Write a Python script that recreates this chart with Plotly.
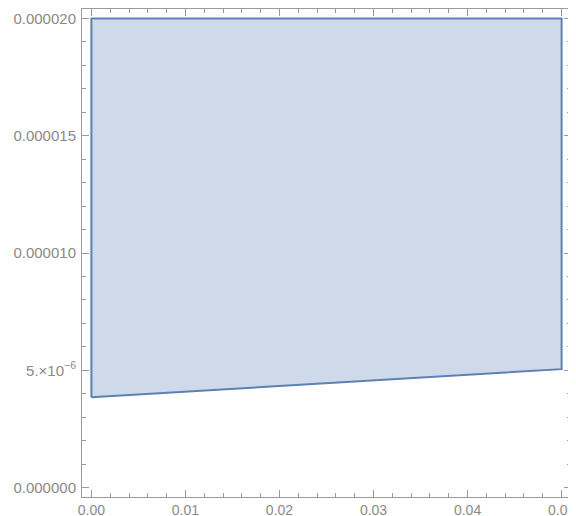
import plotly.graph_objects as go

# Region vertices (x, y)
region_x = [0.0, 0.05, 0.05, 0.0, 0.0]
region_y = [3.85e-6, 5.05e-6, 2.0e-5, 2.0e-5, 3.85e-6]

x_tick_vals = [0.0, 0.01, 0.02, 0.03, 0.04, 0.05]
x_tick_text = ["0.00", "0.01", "0.02", "0.03", "0.04", "0.05"]
y_tick_vals = [0.0, 5e-6, 1e-5, 1.5e-5, 2e-5]
y_tick_text = ["0.000000", "5.×10<sup>−6</sup>", "0.000010", "0.000015", "0.000020"]

fig = go.Figure()
fig.add_trace(go.Scatter(
    x=region_x, y=region_y, mode="lines", fill="toself",
    fillcolor="rgba(94,129,181,0.3)",
    line=dict(color="rgb(94,129,181)", width=2),
    hoverinfo="skip", showlegend=False,
))

axis_common = dict(
    showgrid=False, zeroline=False, showline=True, linecolor="#9a9a9a", linewidth=1,
    mirror="allticks", ticks="inside", ticklen=7, tickcolor="#9a9a9a", tickwidth=1,
    automargin=False, ticklabeloverflow="allow",
)

fig.update_xaxes(
    range=[-0.001, 0.051], tickmode="array", tickvals=x_tick_vals, ticktext=x_tick_text,
    minor=dict(tickmode="linear", tick0=0, dtick=0.002, ticks="inside", ticklen=4, tickcolor="#9a9a9a"),
    ticklabelstandoff=0,
    tickfont=dict(family="Liberation Sans, Arial, sans-serif", size=14, color="#8a8a8a"),
    **axis_common,
)
fig.update_yaxes(
    range=[-4e-7, 2.04e-5], tickmode="array", tickvals=y_tick_vals, ticktext=y_tick_text,
    minor=dict(tickmode="linear", tick0=0, dtick=1e-6, ticks="inside", ticklen=4, tickcolor="#9a9a9a"),
    ticklabelstandoff=2,
    tickfont=dict(family="Liberation Sans, Arial, sans-serif", size=15, color="#8a8a8a"),
    **axis_common,
)

fig.update_layout(
    width=568, height=508,
    margin=dict(l=74, r=5, t=1, b=19, autoexpand=False),
    plot_bgcolor="white", paper_bgcolor="white",
)

fig.write_html("out.html")
